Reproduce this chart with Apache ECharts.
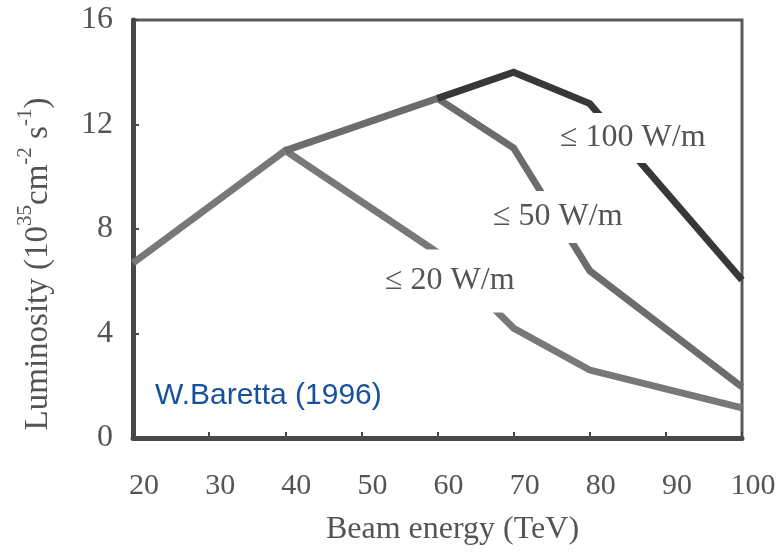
<!DOCTYPE html>
<html>
<head>
<meta charset="utf-8">
<script src="https://cdn.jsdelivr.net/npm/echarts@6/dist/echarts.min.js"></script>
<style>
  html, body { margin: 0; padding: 0; background: #fff; }
  #chart { width: 784px; height: 555px; }
</style>
</head>
<body>
<div id="chart"></div>
<script>
// Beam energy (TeV) vs luminosity, one curve per synchrotron-radiation limit
const energyMin = 20;
const energyMax = 100;
const energyStep = 10;
const lumiMin = 0;
const lumiMax = 16;
const lumiStep = 4;

// [beam energy, luminosity] break points of each curve
const limit20 = [[20, 6.7], [40, 11.0], [60, 7.1], [70, 4.2], [80, 2.6], [100, 1.15]];
const limit50 = [[40, 11.0], [60, 13.0], [70, 11.1], [80, 6.4], [100, 1.95]];
const limit100 = [[60, 13.0], [70, 14.0], [80, 12.8], [100, 6.05]];

const curveNames = ['≤ 20 W/m', '≤ 50 W/m', '≤ 100 W/m'];
const sourceNote = 'W.Baretta (1996)';

const serif = '"Liberation Serif", "Times New Roman", serif';
const inkGrey = '#545454';

const chart = echarts.init(document.getElementById('chart'));

function curve(name, data, color, z) {
  return {
    name: name,
    type: 'line',
    data: data,
    symbol: 'none',
    z: z,
    lineStyle: { color: color, width: 7, join: 'miter', cap: 'butt' },
    animation: false
  };
}

// curve labels sit on a white plate that interrupts the line underneath
function curveLabel(text, x, y, pad) {
  return {
    type: 'text',
    x: x,
    y: y,
    z: 100,
    style: {
      text: text,
      fontFamily: serif,
      fontSize: 32,
      fill: inkGrey,
      align: 'left',
      verticalAlign: 'middle',
      backgroundColor: '#fff',
      padding: pad
    }
  };
}

chart.setOption({
  backgroundColor: '#fff',
  animation: false,
  grid: {
    left: 133, right: 42, top: 20, bottom: 117,
    show: true, borderColor: '#5a5a5a', borderWidth: 3, backgroundColor: 'transparent'
  },
  xAxis: {
    type: 'value',
    min: energyMin, max: energyMax, interval: energyStep,
    name: 'Beam energy (TeV)',
    nameLocation: 'middle',
    nameGap: 76,
    nameTextStyle: { fontFamily: serif, fontSize: 32, color: inkGrey, padding: [0, 0, 0, 30] },
    axisLine: { show: true, lineStyle: { color: '#484848', width: 5 } },
    axisTick: { show: true, inside: true, length: 6, lineStyle: { color: '#484848', width: 2 } },
    axisLabel: { fontFamily: serif, fontSize: 30, color: inkGrey, margin: 33, padding: [0, 0, 0, 22] },
    splitLine: { show: false }
  },
  yAxis: {
    type: 'value',
    min: lumiMin, max: lumiMax, interval: lumiStep,
    name: '{b|Luminosity (10}{sup|35}{b|cm}{sup|-2}{b| s}{sup|-1}{b|)}',
    nameLocation: 'middle',
    nameRotate: 90,
    nameGap: 78,
    nameTextStyle: {
      color: inkGrey,
      padding: [0, 70, 0, 0],
      rich: {
        b: { fontFamily: serif, fontSize: 33, color: inkGrey, verticalAlign: 'bottom', lineHeight: 40 },
        sup: { fontFamily: serif, fontSize: 21, color: inkGrey, verticalAlign: 'top', lineHeight: 22 }
      }
    },
    axisLine: { show: true, lineStyle: { color: '#484848', width: 5 } },
    axisTick: { show: true, inside: true, length: 6, lineStyle: { color: '#484848', width: 2 } },
    axisLabel: { fontFamily: serif, fontSize: 32, color: inkGrey, margin: 20 },
    splitLine: { show: false }
  },
  series: [
    curve(curveNames[0], limit20, '#787878', 2),
    curve(curveNames[1], limit50, '#6c6c6c', 3),
    curve(curveNames[2], limit100, '#383838', 4)
  ],
  graphic: [
    curveLabel(curveNames[2], 556, 138, [12, 4, 6, 4]),
    curveLabel(curveNames[1], 489, 217, [10, 4, 10, 4]),
    curveLabel(curveNames[0], 381, 281, [15, 4, 16, 4]),
    {
      type: 'text',
      x: 155,
      y: 396,
      z: 100,
      style: {
        text: sourceNote,
        fontFamily: '"Liberation Sans", Arial, sans-serif',
        fontSize: 30,
        fill: '#17519e',
        align: 'left',
        verticalAlign: 'middle'
      }
    }
  ]
});
</script>
</body>
</html>
